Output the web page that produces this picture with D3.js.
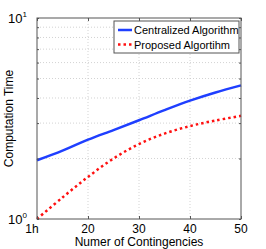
<!DOCTYPE html>
<meta charset="utf-8">
<head>
<style>
  body { margin: 0; background: #fff; }
  text { font-family: "Liberation Sans", Arial, sans-serif; fill: #000; }
  .grid line { stroke: #c8c8c8; stroke-dasharray: 1,2; stroke-width: 0.8; }
</style>
</head>
<body>
<div id="vis"></div>
<script src="https://cdn.jsdelivr.net/npm/d3@7"></script>
<script>
// data
var contingencies = [10, 15, 20, 25, 30, 35, 40, 45, 50];
var centralized  = [1.96, 2.19, 2.48, 2.77, 3.10, 3.48, 3.88, 4.26, 4.62];
var proposed     = [1.00, 1.28, 1.62, 2.00, 2.36, 2.66, 2.90, 3.09, 3.26];
var seriesNames  = ["Centralized Algorithm", "Proposed Algortihm"];
var xTicks = [10, 20, 30, 40, 50];
var xTickLabels = ["1h", "20", "30", "40", "50"];
var yTicks = [1, 10];

var width = 266, height = 249;
var margin = {top: 18, left: 37, bottom: 30, right: 25};
var chartWidth = width - margin.left - margin.right,
    chartHeight = height - margin.top - margin.bottom;

var svg = d3.select("#vis").append("svg")
    .attr("width", width).attr("height", height);
var g = svg.append("g")
    .attr("transform", "translate(" + margin.left + "," + margin.top + ")");

var x = d3.scaleLinear().domain([10, 50]).range([0, chartWidth]);
var y = d3.scaleLog().domain([1, 10]).range([chartHeight, 0]);

// grid
var minor = [2, 3, 4, 5, 6, 7, 8, 9];
var grid = g.append("g").attr("class", "grid");
grid.selectAll(".h").data(minor).enter().append("line")
    .attr("x1", 0).attr("x2", chartWidth)
    .attr("y1", function(d) { return y(d); }).attr("y2", function(d) { return y(d); });
grid.selectAll(".v").data([20, 30, 40]).enter().append("line")
    .attr("y1", 0).attr("y2", chartHeight)
    .attr("x1", function(d) { return x(d); }).attr("x2", function(d) { return x(d); });

// lines
var line = d3.line().curve(d3.curveCatmullRom.alpha(0.5));
function pts(vals) { return contingencies.map(function(c, i) { return [x(c), y(vals[i])]; }); }

g.append("path").attr("d", line(pts(centralized)))
    .attr("fill", "none").attr("stroke", "#1f3fff").attr("stroke-width", 2.5);
g.append("path").attr("d", line(pts(proposed)))
    .attr("fill", "none").attr("stroke", "#ff1010").attr("stroke-width", 2.5)
    .attr("stroke-dasharray", "2.5,3");

// box
g.append("rect").attr("width", chartWidth).attr("height", chartHeight)
    .attr("fill", "none").attr("stroke", "#555").attr("stroke-width", 1);

// ticks (inside, MATLAB style)
function tickStyle(s) { s.select(".domain").remove(); s.selectAll("line").attr("stroke", "#555"); }
g.append("g").attr("transform", "translate(0," + chartHeight + ")")
  .call(d3.axisBottom(x).tickValues(xTicks).tickSize(-3).tickFormat("")).call(tickStyle);
g.append("g")
  .call(d3.axisTop(x).tickValues(xTicks).tickSize(-3).tickFormat("")).call(tickStyle);
var yAll = [1, 2, 3, 4, 5, 6, 7, 8, 9, 10];
g.append("g")
  .call(d3.axisLeft(y).tickValues(yAll).tickSize(-2).tickFormat("")).call(tickStyle);
g.append("g").attr("transform", "translate(" + chartWidth + ",0)")
  .call(d3.axisRight(y).tickValues(yAll).tickSize(-2).tickFormat("")).call(tickStyle);

// x tick labels
g.selectAll(".xl").data(xTicks).enter().append("text")
    .attr("x", function(d) { return x(d) + (d === 10 ? -5 : 0); })
    .attr("y", chartHeight + 14)
    .attr("text-anchor", "middle").attr("font-size", "12px")
    .text(function(d, i) { return xTickLabels[i]; });

// y tick labels 10^n
g.selectAll(".yl").data(yTicks).enter().append("text")
    .attr("x", -10).attr("y", function(d) { return y(d) + 5; })
    .attr("text-anchor", "end").attr("font-size", "13px")
    .text("10")
    .append("tspan").attr("dy", -6).attr("font-size", "8px")
    .text(function(d) { return Math.round(Math.log10(d)); });

// axis titles
svg.append("text").attr("text-anchor", "middle")
    .attr("x", margin.left + chartWidth / 2).attr("y", 246)
    .attr("font-size", "12px").text("Numer of Contingencies");
svg.append("text").attr("text-anchor", "middle")
    .attr("transform", "translate(13," + (margin.top + chartHeight / 2) + ") rotate(-90)")
    .attr("font-size", "12px").text("Computation Time");

// legend
var leg = svg.append("g").attr("transform", "translate(114,21)");
leg.append("rect").attr("width", 125).attr("height", 32)
    .attr("fill", "#fff").attr("stroke", "#555").attr("stroke-width", 1);
var legColors = ["#1f3fff", "#ff1010"];
seriesNames.forEach(function(n, i) {
  var ly = 9 + i * 14.5;
  leg.append("line").attr("x1", 4).attr("x2", 18).attr("y1", ly).attr("y2", ly)
     .attr("stroke", legColors[i]).attr("stroke-width", 2.5)
     .attr("stroke-dasharray", i === 1 ? "2.5,3" : null);
  leg.append("text").attr("x", 20).attr("y", ly + 4)
     .attr("font-size", "11px").text(n);
});
</script>
</body>
